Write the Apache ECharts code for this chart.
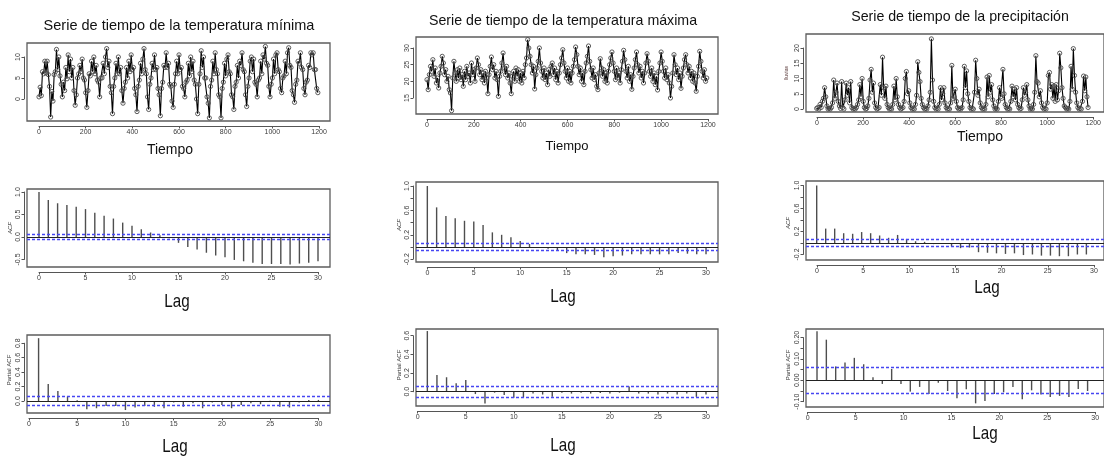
<!DOCTYPE html>
<html>
<head>
<meta charset="utf-8">
<script src="https://cdn.jsdelivr.net/npm/echarts@6/dist/echarts.min.js"></script>
<style>
  html, body { margin: 0; padding: 0; background: #ffffff; }
  #chart { width: 1104px; height: 461px; }
</style>
</head>
<body>
<div id="chart"></div>
<script>
// ---- Datos -------------------------------------------------------------
// Series muestreadas cada `paso` unidades de tiempo (0, 5, 10, ... 1195)
const paso = 5;

const tempMinima = [
  0.5, 2.8, 0.8, 6.5, 6.0, 9.0, 6.2, 9.0, 5.8, 3.0,
  -4.3, 1.8, -0.5, 5.8, 6.5, 11.8, 7.0, 10.0, 5.5, 3.5,
  0.5, 4.0, 2.0, 7.5, 4.8, 10.5, 6.5, 9.5, 5.0, 7.5,
  2.0, -1.5, 1.0, 5.0, 6.0, 8.0, 6.5, 9.5, 5.0, 4.5,
  1.5, -2.0, 2.0, 6.0, 5.5, 9.0, 6.5, 10.0, 6.0, 8.0,
  4.5, 4.0, 0.5, 5.0, 5.0, 8.5, 6.0, 10.0, 12.0, 7.5,
  9.0, 3.0, 1.5, -3.5, 3.0, 5.0, 8.5, 6.0, 10.0, 6.0,
  7.5, 2.0, -1.0, 2.5, 4.0, 7.5, 5.0, 9.0, 6.5, 10.5,
  7.0, 7.5, 2.5, 1.0, -3.0, 3.0, 4.5, 8.5, 6.0, 9.5,
  12.0, 7.0, 6.0, 0.5, -2.5, 3.5, 5.0, 8.5, 7.0, 10.5,
  7.0, 7.5, 2.5, 1.0, -4.0, 2.5, 4.0, 8.0, 7.5, 11.0,
  7.5, 8.5, 3.5, 3.0, -0.5, -2.0, 3.5, 6.0, 9.0, 6.0,
  10.5, 7.0, 7.5, 3.0, 2.5, 0.5, 4.0, 4.5, 8.5, 5.5,
  10.0, 6.5, 9.0, 4.5, 3.5, 0.0, -3.5, 3.5, 6.0, 11.5,
  7.5, 10.0, 5.0, 5.0, 0.5, -1.0, -4.5, 3.0, 4.5, 9.0,
  6.0, 11.0, 7.0, 6.0, 1.0, 0.5, -4.5, 2.5, 4.0, 8.5,
  5.5, 9.5, 10.5, 6.5, 6.0, 1.0, 0.5, -2.5, 3.0, 4.0,
  8.0, 5.0, 9.0, 8.0, 11.0, 7.0, 6.5, 1.0, -1.8, 3.0,
  5.0, 9.0, 10.0, 6.5, 9.5, 4.0, 3.5, 0.5, 4.5, 5.0,
  9.0, 6.0, 10.5, 9.5, 12.5, 8.5, 8.0, 3.0, 0.5, 3.5,
  5.0, 9.5, 6.0, 10.5, 11.0, 7.0, 6.5, 2.5, 1.5, 5.0,
  5.5, 9.0, 6.0, 11.0, 12.2, 8.0, 7.5, 2.0, 1.0, -0.8,
  3.5, 4.5, 9.0, 8.5, 11.0, 7.5, 7.0, 2.5, 1.0, 4.0,
  4.5, 8.0, 7.5, 11.0, 10.5, 11.0, 7.0, 7.0, 2.5, 1.5
];

const tempMaxima = [
  20.5, 17.5, 22.0, 24.5, 23.0, 26.5, 21.5, 24.0, 19.5, 21.0,
  18.0, 22.5, 24.5, 27.5, 25.5, 22.0, 23.5, 20.0, 21.5, 17.5,
  16.5, 11.2, 21.0, 26.0, 22.5, 20.0, 23.5, 21.0, 24.0, 20.5,
  22.0, 18.5, 23.0, 20.5, 24.5, 21.5, 22.5, 19.5, 25.5, 22.0,
  23.5, 20.0, 24.0, 27.0, 25.0, 22.0, 23.5, 20.5, 22.5, 19.5,
  23.0, 21.0, 16.3, 22.0, 24.5, 27.3, 23.5, 25.0, 21.0, 23.0,
  20.5, 15.5, 21.5, 23.0, 25.5, 28.5, 24.0, 22.0, 24.5, 21.0,
  22.5, 19.5, 16.3, 21.5, 23.0, 20.0, 24.0, 21.5, 23.5, 20.0,
  22.5, 19.5, 23.0, 21.0, 25.0, 27.0, 32.5, 30.0, 27.5, 25.0,
  22.5, 24.5, 17.7, 22.0, 24.0, 26.0, 30.0, 25.5, 23.0, 21.0,
  24.0, 20.5, 22.5, 19.0, 23.5, 21.5, 24.5, 25.5, 22.0, 24.0,
  20.5, 23.0, 19.5, 22.5, 25.0, 27.0, 29.5, 25.5, 23.0, 21.0,
  24.0, 20.0, 23.0, 19.5, 22.5, 24.5, 26.5, 30.3, 28.0, 24.5,
  22.0, 24.0, 20.0, 22.5, 19.0, 23.0, 25.5, 27.5, 30.6, 26.0,
  23.5, 21.0, 24.0, 20.5, 22.0, 18.5, 17.5, 22.5, 26.8, 24.0,
  21.5, 23.5, 20.0, 22.5, 19.5, 23.0, 25.0, 27.0, 28.8, 25.5,
  23.0, 20.5, 24.0, 21.0, 22.5, 19.5, 23.5, 26.0, 29.3, 26.5,
  23.0, 21.0, 24.5, 20.0, 22.0, 17.6, 21.5, 24.0, 26.5, 28.8,
  25.0, 22.5, 24.5, 21.0, 23.0, 19.5, 22.5, 25.5, 28.3, 26.0,
  23.0, 21.5, 24.0, 20.0, 22.5, 19.0, 21.5, 17.4, 23.0, 25.5,
  28.8, 26.0, 23.0, 21.0, 24.0, 20.5, 22.0, 19.5, 15.0, 18.5,
  22.5, 28.0, 25.0, 22.0, 24.0, 20.5, 22.5, 17.9, 21.5, 24.0,
  26.5, 28.0, 25.0, 22.5, 24.5, 21.0, 23.0, 20.0, 22.5, 19.5,
  17.0, 21.5, 24.5, 29.0, 26.0, 23.0, 21.0, 23.5, 20.0, 21.0
];

const precipitacion = [
  0.2, 0.5, 0.0, 1.5, 0.5, 2.5, 3.5, 7.0, 4.0, 1.0,
  0.0, 0.2, 0.0, 0.5, 2.0, 9.5, 3.5, 5.5, 8.5, 2.5,
  1.0, 0.2, 9.0, 0.5, 0.0, 3.0, 8.5, 4.5, 7.0, 2.0,
  9.0, 0.5, 0.0, 0.2, 0.0, 0.5, 1.5, 3.0, 8.0, 4.0,
  10.0, 2.5, 0.5, 0.0, 0.2, 1.0, 3.5, 9.5, 13.0, 5.5,
  8.5, 2.0, 0.5, 0.0, 0.2, 0.5, 8.0, 4.5, 17.0, 7.0,
  3.5, 7.5, 1.5, 0.5, 0.0, 0.2, 0.0, 1.5, 7.5, 3.0,
  10.0, 4.0, 1.5, 0.5, 0.0, 0.2, 0.5, 2.5, 10.0, 12.3,
  5.0, 6.0, 2.0, 0.5, 0.0, 0.2, 0.0, 1.5, 4.5, 15.5,
  12.0, 9.0, 3.5, 1.5, 0.5, 0.0, 0.2, 0.0, 1.0, 3.0,
  5.5, 23.0, 9.5, 2.5, 0.5, 0.0, 0.2, 0.0, 1.5, 7.0,
  3.0, 5.0, 7.0, 2.0, 0.5, 0.0, 0.2, 0.0, 2.0, 14.3,
  3.5, 4.0, 6.5, 2.5, 0.5, 0.0, 0.2, 0.0, 0.5, 3.0,
  14.0, 7.0, 12.5, 5.0, 2.5, 0.5, 0.0, 0.2, 0.0, 5.5,
  16.0, 10.0, 4.5, 6.5, 2.0, 0.5, 0.0, 0.2, 0.0, 1.5,
  10.5, 4.0, 11.0, 5.5, 8.0, 3.0, 1.0, 0.0, 0.2, 0.0,
  2.5, 7.0, 4.0, 3.5, 13.0, 5.0, 1.5, 0.5, 0.0, 0.2,
  0.0, 2.5, 7.5, 4.0, 6.5, 3.0, 7.0, 1.5, 0.5, 0.0,
  0.2, 3.0, 7.0, 4.5, 5.5, 8.0, 3.0, 1.0, 0.0, 0.2,
  0.0, 1.5, 5.5, 17.5, 9.0, 8.5, 4.0, 6.0, 2.0, 0.5,
  0.0, 0.2, 0.0, 2.0, 11.0, 12.0, 6.5, 8.0, 3.5, 7.5,
  2.5, 8.0, 3.0, 6.0, 18.3, 13.5, 7.0, 3.5, 1.0, 0.5,
  0.0, 0.2, 0.0, 2.5, 14.0, 6.5, 19.8, 11.0, 5.5, 2.0,
  0.5, 0.0, 0.2, 0.0, 2.5, 10.8, 6.0, 10.5, 4.0, 0.5
];

// Funciones de autocorrelación (rezagos 0..30) y autocorrelación parcial (1..30)
const rezagosACF = [0,1,2,3,4,5,6,7,8,9,10,11,12,13,14,15,16,17,18,19,20,21,22,23,24,25,26,27,28,29,30];
const rezagosPACF = [1,2,3,4,5,6,7,8,9,10,11,12,13,14,15,16,17,18,19,20,21,22,23,24,25,26,27,28,29,30];

const acfMinima = [1.00, 0.82, 0.75, 0.71, 0.67, 0.62, 0.54, 0.47, 0.41, 0.32, 0.25, 0.17, 0.10, 0.04, -0.03,
  -0.13, -0.22, -0.28, -0.35, -0.41, -0.45, -0.51, -0.54, -0.57, -0.60, -0.60, -0.60, -0.61, -0.59, -0.57, -0.54];
const acfMaxima = [1.00, 0.65, 0.51, 0.47, 0.43, 0.42, 0.36, 0.24, 0.20, 0.16, 0.10, 0.05, 0.00, -0.03, -0.06,
  -0.10, -0.12, -0.12, -0.13, -0.17, -0.15, -0.14, -0.12, -0.12, -0.12, -0.12, -0.12, -0.10, -0.11, -0.12, -0.12];
const acfPrecip = [1.00, 0.25, 0.25, 0.17, 0.16, 0.19, 0.17, 0.13, 0.09, 0.14, 0.07, 0.03, 0.02, -0.02, 0.00,
  -0.06, -0.09, -0.08, -0.16, -0.17, -0.18, -0.19, -0.18, -0.21, -0.20, -0.22, -0.22, -0.23, -0.23, -0.20, -0.20];

const pacfMinima = [0.87, 0.235, 0.14, 0.06, 0.01, -0.115, -0.10, -0.07, -0.07, -0.125, -0.09, -0.07, -0.08, -0.10, -0.02,
  -0.08, -0.03, -0.10, -0.02, -0.055, -0.10, -0.055, -0.03, -0.045, 0.005, -0.08, -0.09, -0.02, 0.015, 0.015];
const pacfMaxima = [0.65, 0.18, 0.155, 0.09, 0.125, -0.025, -0.125, -0.01, -0.035, -0.065, -0.06, -0.02, -0.03, -0.055, -0.01,
  -0.02, -0.01, -0.02, -0.015, -0.02, -0.01, 0.055, -0.02, -0.02, -0.03, -0.02, -0.03, -0.02, -0.055, -0.03];
const pacfPrecip = [0.23, 0.19, 0.065, 0.083, 0.105, 0.075, 0.014, -0.017, 0.053, -0.017, -0.053, -0.031, -0.064, -0.011, -0.05,
  -0.084, -0.042, -0.108, -0.097, -0.064, -0.056, -0.031, -0.089, -0.047, -0.066, -0.078, -0.073, -0.078, -0.041, -0.05];

// Límites de significancia (líneas azules discontinuas)
const bandaMinima = 0.06;
const bandaMaxima = 0.057;
const bandaPrecip = 0.057;

// Textos
const titulos = ['Serie de tiempo de la temperatura mínima', 'Serie de tiempo de la temperatura máxima', 'Serie de tiempo de la precipitación'];
const nombreTiempo = 'Tiempo';
const nombreLag = 'Lag';
const nombreACF = 'ACF';
const nombrePACF = 'Partial ACF';
const nombreLluvia = 'lluvias';

// Etiquetas de los ejes
const etiquetasTiempo = ['0', '200', '400', '600', '800', '1000', '1200'];
const etiquetasLag = ['0', '5', '10', '15', '20', '25', '30'];
const etiquetasYMinima = ['0', '5', '10'];
const etiquetasYMaxima = ['15', '20', '25', '30'];
const etiquetasYPrecip = ['0', '5', '10', '15', '20'];
const etiquetasACFMinima = ['-0.5', '0.0', '0.5', '1.0'];
const etiquetasACF = ['-0.2', '0.2', '0.6', '1.0'];
const etiquetasPACFMinima = ['0.0', '0.2', '0.4', '0.6', '0.8'];
const etiquetasPACFMaxima = ['0.0', '0.2', '0.4', '0.6'];
const etiquetasPACFPrecip = ['-0.10', '0.00', '0.10', '0.20'];

// ---- Composición ---------------------------------------------------------
const FT = "'Liberation Sans', Arial, sans-serif";
const FT_N = "'Liberation Sans Narrow', 'Liberation Sans', Arial, sans-serif";
const AXIS_COLOR = '#555555';
const LABEL_COLOR = '#3a3a3a';

// box = [izquierda, arriba, derecha, abajo] en píxeles; xT / yT = [desde, hasta, paso] de las marcas
const paneles = [
  { tipo: 'serie', datos: tempMinima, box: [27, 43, 330, 121], xDom: [-51.4, 1247], yDom: [-5.24, 13.33],
    xT: [0, 1200, 200], xLab: etiquetasTiempo, xDec: 0, yT: [0, 10, 5], yLab: etiquetasYMinima, yDec: 0 },
  { tipo: 'serie', datos: tempMaxima, box: [416, 37, 718, 114], xDom: [-47, 1243], yDom: [10.2, 33.3],
    xT: [0, 1200, 200], xLab: etiquetasTiempo, xDec: 0, yT: [15, 30, 5], yLab: etiquetasYMaxima, yDec: 0 },
  { tipo: 'serie', datos: precipitacion, box: [806, 34, 1112, 112], xDom: [-47, 1265], yDom: [-0.98, 24.6],
    xT: [0, 1200, 200], xLab: etiquetasTiempo, xDec: 0, yT: [0, 20, 5], yLab: etiquetasYPrecip, yDec: 0 },

  { tipo: 'acf', rez: rezagosACF, datos: acfMinima, banda: bandaMinima, box: [27, 189, 330, 267], xDom: [-1.29, 31.29], yDom: [-0.667, 1.067],
    xT: [0, 30, 5], xLab: etiquetasLag, xDec: 0, yT: [-0.5, 1.0, 0.5], yLab: etiquetasACFMinima, yDec: 1 },
  { tipo: 'acf', rez: rezagosACF, datos: acfMaxima, banda: bandaMaxima, box: [416, 182, 718, 262], xDom: [-1.22, 31.29], yDom: [-0.246, 1.066],
    xT: [0, 30, 5], xLab: etiquetasLag, xDec: 0, yT: [-0.2, 1.0, 0.2], yLab: etiquetasACF, yDec: 1 },
  { tipo: 'acf', rez: rezagosACF, datos: acfPrecip, banda: bandaPrecip, box: [806, 181, 1112, 260], xDom: [-1.19, 31.96], yDom: [-0.296, 1.078],
    xT: [0, 30, 5], xLab: etiquetasLag, xDec: 0, yT: [-0.2, 1.0, 0.2], yLab: etiquetasACF, yDec: 1 },

  { tipo: 'acf', rez: rezagosPACF, datos: pacfMinima, banda: bandaMinima, box: [27, 335, 330, 413], xDom: [-0.2, 31.2], yDom: [-0.166, 0.914],
    xT: [0, 30, 5], xLab: etiquetasLag, xDec: 0, yT: [0, 0.8, 0.2], yLab: etiquetasPACFMinima, yDec: 1 },
  { tipo: 'acf', rez: rezagosPACF, datos: pacfMaxima, banda: bandaMaxima, box: [416, 329, 718, 406], xDom: [-0.18, 31.25], yDom: [-0.153, 0.672],
    xT: [0, 30, 5], xLab: etiquetasLag, xDec: 0, yT: [0, 0.6, 0.2], yLab: etiquetasPACFMaxima, yDec: 1 },
  { tipo: 'acf', rez: rezagosPACF, datos: pacfPrecip, banda: bandaPrecip, box: [806, 329, 1112, 407], xDom: [-0.18, 31.76], yDom: [-0.125, 0.24],
    xT: [0, 30, 5], xLab: etiquetasLag, xDec: 0, yT: [-0.10, 0.20, 0.05], yLab: etiquetasPACFPrecip, yDec: 2 }
];

const grids = [], xAxes = [], yAxes = [], series = [];

function fmt(v, dec) {
  const s = (Math.round(v * 1e6) / 1e6).toFixed(dec);
  return s === '-0' || s === '-0.0' || s === '-0.00' ? s.slice(1) : s;
}

function addPanel(p) {
  const [l, t, r, b] = p.box;
  const W = r - l, H = b - t;
  const sx = v => l + (v - p.xDom[0]) / (p.xDom[1] - p.xDom[0]) * W;
  const sy = v => b - (v - p.yDom[0]) / (p.yDom[1] - p.yDom[0]) * H;

  // Marco del gráfico (y sistema de coordenadas de los datos)
  const gBox = grids.length;
  grids.push({ left: l, top: t, width: W, height: H, show: true, borderColor: '#5c5c5c', borderWidth: 1.3, backgroundColor: 'rgba(0,0,0,0)' });
  xAxes.push({ type: 'value', gridIndex: gBox, min: p.xDom[0], max: p.xDom[1], show: false });
  yAxes.push({ type: 'value', gridIndex: gBox, min: p.yDom[0], max: p.yDom[1], show: false });

  // Eje X: línea sólo entre la primera y la última marca, separada del marco
  const gX = grids.length;
  grids.push({ left: sx(p.xT[0]), top: t, width: sx(p.xT[1]) - sx(p.xT[0]), height: H, show: false });
  xAxes.push({
    type: 'value', gridIndex: gX, min: p.xT[0], max: p.xT[1], interval: p.xT[2], position: 'bottom', offset: 5,
    axisLine: { show: true, onZero: false, lineStyle: { color: AXIS_COLOR, width: 1 } },
    axisTick: { show: true, length: 2.5, lineStyle: { color: AXIS_COLOR, width: 1 } },
    axisLabel: { show: true, margin: 2.5, fontSize: 7, color: LABEL_COLOR, fontFamily: FT_N, showMinLabel: true, showMaxLabel: true,
      formatter: v => { const s = fmt(v, p.xDec); return p.xLab.includes(s) ? s : ''; } },
    splitLine: { show: false }
  });
  yAxes.push({ type: 'value', gridIndex: gX, show: false });

  // Eje Y
  const gY = grids.length;
  grids.push({ left: l, top: sy(p.yT[1]), width: W, height: sy(p.yT[0]) - sy(p.yT[1]), show: false });
  xAxes.push({ type: 'value', gridIndex: gY, show: false });
  yAxes.push({
    type: 'value', gridIndex: gY, min: p.yT[0], max: p.yT[1], interval: p.yT[2], position: 'left', offset: 3,
    axisLine: { show: true, onZero: false, lineStyle: { color: AXIS_COLOR, width: 1 } },
    axisTick: { show: true, length: 2.5, lineStyle: { color: AXIS_COLOR, width: 1 } },
    axisLabel: { show: true, rotate: 90, margin: 2, fontSize: 7, color: LABEL_COLOR, fontFamily: FT_N, showMinLabel: true, showMaxLabel: true,
      formatter: v => { const s = fmt(v, p.yDec); return p.yLab.includes(s) ? s : ''; } },
    splitLine: { show: false }
  });

  if (p.tipo === 'serie') {
    series.push({
      type: 'line', xAxisIndex: gBox, yAxisIndex: gBox,
      data: p.datos.map((v, k) => [k * paso, v]),
      symbol: 'circle', symbolSize: 4.2, showSymbol: true,
      itemStyle: { color: 'rgba(0,0,0,0)', borderColor: '#4a4a4a', borderWidth: 0.9 },
      lineStyle: { color: '#000000', width: 1.1 },
      clip: true, silent: true, animation: false
    });
  } else {
    series.push({
      type: 'bar', xAxisIndex: gBox, yAxisIndex: gBox,
      data: p.rez.map((lag, k) => [lag, p.datos[k]]),
      barWidth: 1.4,
      itemStyle: { color: '#4e4e4e' },
      silent: true, animation: false,
      markLine: {
        silent: true, symbol: ['none', 'none'], label: { show: false }, animation: false,
        data: [
          { yAxis: 0, lineStyle: { type: 'solid', color: '#222222', width: 1.1 } },
          { yAxis: p.banda, lineStyle: { type: [3, 2], color: '#4646f2', width: 1.3 } },
          { yAxis: -p.banda, lineStyle: { type: [3, 2], color: '#4646f2', width: 1.3 } }
        ]
      }
    });
  }
}

paneles.forEach(addPanel);

function texto(txt, x, y, size, opts = {}) {
  return {
    type: 'text', x, y, rotation: opts.rot || 0, scaleX: opts.sx || 1, silent: true,
    style: { text: txt, x: 0, y: 0, align: 'center', verticalAlign: 'middle',
      font: (opts.italic ? 'italic ' : '') + size + 'px ' + (opts.family || FT), fill: opts.color || '#111111' }
  };
}

const R90 = Math.PI / 2;
const LAG = { family: FT_N, sx: 0.8 };
const graficos = [
  texto(titulos[0], 179, 26, 14.5),
  texto(titulos[1], 563, 21, 14.2),
  texto(titulos[2], 960, 17, 14.2),
  texto(nombreTiempo, 170, 150, 14),
  texto(nombreTiempo, 567, 146, 13),
  texto(nombreTiempo, 980, 137, 14),
  texto(nombreLag, 177, 302, 19, LAG),
  texto(nombreLag, 563, 297, 19, LAG),
  texto(nombreLag, 987, 288, 19, LAG),
  texto(nombreLag, 175, 447, 19, LAG),
  texto(nombreLag, 563, 446, 19, LAG),
  texto(nombreLag, 985, 434, 19, LAG),
  texto(nombreLluvia, 787, 73, 5, { rot: R90, color: '#5a3a3a' }),
  texto(nombreACF, 10, 228, 6, { rot: R90, italic: true, color: '#333' }),
  texto(nombreACF, 399, 225, 6, { rot: R90, italic: true, color: '#333' }),
  texto(nombreACF, 788, 223, 6, { rot: R90, italic: true, color: '#333' }),
  texto(nombrePACF, 9, 370, 6, { rot: R90, color: '#333' }),
  texto(nombrePACF, 399, 365, 6, { rot: R90, color: '#333' }),
  texto(nombrePACF, 788, 365, 6, { rot: R90, color: '#333' })
];

const chart = echarts.init(document.getElementById('chart'), null, { renderer: 'canvas', width: 1104, height: 461 });
chart.setOption({
  animation: false,
  backgroundColor: '#ffffff',
  grid: grids,
  xAxis: xAxes,
  yAxis: yAxes,
  series: series,
  graphic: graficos
});
</script>
</body>
</html>
